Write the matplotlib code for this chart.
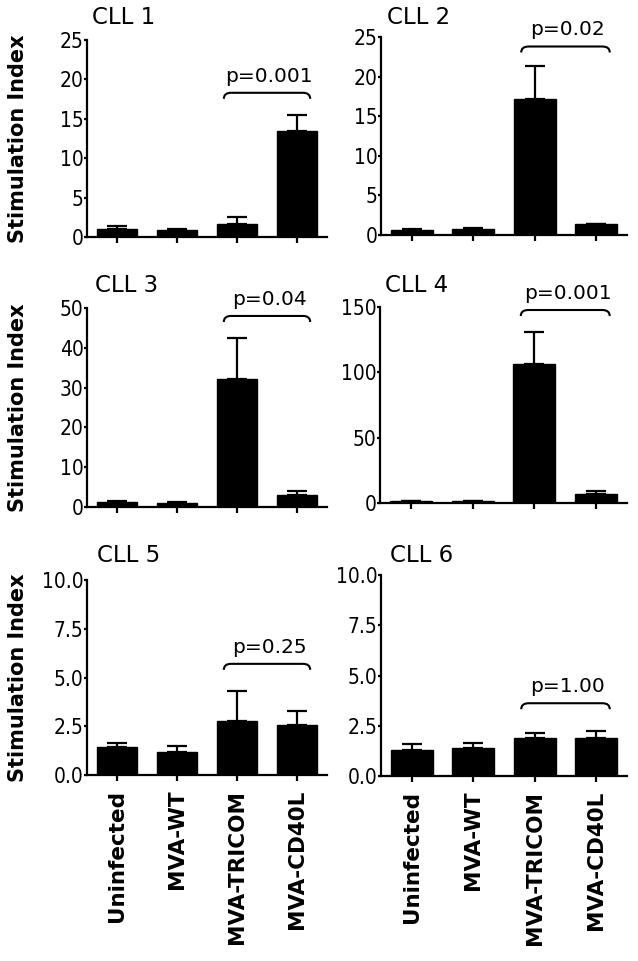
import matplotlib
matplotlib.use("Agg")
import matplotlib.pyplot as plt
from matplotlib.path import Path
from matplotlib.patches import PathPatch

plt.rcParams['font.family'] = ['DejaVu Sans']

categories = ["Uninfected", "MVA-WT", "MVA-TRICOM", "MVA-CD40L"]
titles = ["CLL 1", "CLL 2", "CLL 3", "CLL 4", "CLL 5", "CLL 6"]

cll1_mean = [1.0, 0.9, 1.6, 13.4]
cll1_err = [0.45, 0.1, 1.0, 2.1]
cll2_mean = [0.6, 0.8, 17.2, 1.4]
cll2_err = [0.15, 0.05, 4.2, 0.05]
cll3_mean = [1.2, 1.1, 32.2, 3.0]
cll3_err = [0.2, 0.2, 10.2, 1.1]
cll4_mean = [1.5, 1.5, 106.3, 6.6]
cll4_err = [0.3, 0.3, 24.7, 2.8]
cll5_mean = [1.42, 1.2, 2.77, 2.56]
cll5_err = [0.2, 0.29, 1.53, 0.72]
cll6_mean = [1.29, 1.39, 1.91, 1.91]
cll6_err = [0.32, 0.25, 0.23, 0.33]

p_values = ["p=0.001", "p=0.02", "p=0.04", "p=0.001", "p=0.25", "p=1.00"]
bracket_levels = [18.3, 23.8, 48.0, 147.7, 5.7, 3.62]

y_ticks = [
    [0, 5, 10, 15, 20, 25],
    [0, 5, 10, 15, 20, 25],
    [0, 10, 20, 30, 40, 50],
    [0, 50, 100, 150],
    [0.0, 2.5, 5.0, 7.5, 10.0],
    [0.0, 2.5, 5.0, 7.5, 10.0],
]
y_tick_labels = [
    ["0", "5", "10", "15", "20", "25"],
    ["0", "5", "10", "15", "20", "25"],
    ["0", "10", "20", "30", "40", "50"],
    ["0", "50", "100", "150"],
    ["0.0", "2.5", "5.0", "7.5", "10.0"],
    ["0.0", "2.5", "5.0", "7.5", "10.0"],
]

means = [cll1_mean, cll2_mean, cll3_mean, cll4_mean, cll5_mean, cll6_mean]
errs = [cll1_err, cll2_err, cll3_err, cll4_err, cll5_err, cll6_err]

W, H = 638, 961
fig = plt.figure(figsize=(W / 100, H / 100), dpi=100)

# axes boxes in pixels: x0, y0(top), x1, y1(bottom)
boxes = [
    (87, 40, 327, 237),
    (381, 37, 627, 235),
    (87, 308, 327, 507),
    (380, 307, 627, 503),
    (87, 580, 327, 775),
    (381, 575, 627, 776),
]
title_pos = [(92, 17), (387, 17), (95, 285), (385, 285), (97, 555), (390, 555)]

for i in range(6):
    x0, y0, x1, y1 = boxes[i]
    ax = fig.add_axes([x0 / W, 1 - y1 / H, (x1 - x0) / W, (y1 - y0) / H])
    xs = list(range(len(categories)))
    m = means[i]
    e = errs[i]
    ax.bar(xs, m, width=0.68, color='black', edgecolor='black', zorder=2)
    ax.errorbar(xs, m, yerr=[[0] * len(e), e], fmt='none', ecolor='black',
                elinewidth=1.6, capsize=7.5, capthick=1.6, zorder=1)
    ytop = y_ticks[i][-1]
    ax.set_ylim(0, ytop)
    ax.set_xlim(-0.5, 3.5)
    ax.set_yticks(y_ticks[i])
    ax.set_yticklabels(y_tick_labels[i], fontsize=15, fontstretch='condensed')
    ax.set_xticks(xs)
    if i >= 4:
        ax.set_xticklabels(categories, rotation=90, fontsize=15.5, fontweight='bold',
                           va='top', ha='center')
    else:
        ax.set_xticklabels([])
    for s in ['top', 'right']:
        ax.spines[s].set_visible(False)
    for s in ['left', 'bottom']:
        ax.spines[s].set_linewidth(1.6)
    ax.tick_params(axis='x', direction='out', length=4.5, width=1.6, pad=6)
    ax.tick_params(axis='y', direction='out', length=2.5, width=1.6, pad=0)
    if i % 2 == 0:
        ax.set_ylabel("Stimulation Index", fontsize=15, fontweight='bold')
        ax.yaxis.set_label_coords(-(x0 - 28) / (x1 - x0), 0.5)

    # bracket
    yb = bracket_levels[i]
    d = 6 * ytop / (y1 - y0)
    xl, xr = 1.78, 3.22
    cw = 0.12
    verts = [(xl, yb - d), (xl, yb), (xl + cw, yb), (xr - cw, yb),
             (xr, yb), (xr, yb - d)]
    codes = [Path.MOVETO, Path.CURVE3, Path.CURVE3, Path.LINETO,
             Path.CURVE3, Path.CURVE3]
    ax.add_patch(PathPatch(Path(verts, codes), fill=False, lw=1.5,
                           edgecolor='black', clip_on=False, zorder=3))
    ax.annotate(p_values[i], xy=((xl + xr) / 2 + 0.04, yb), xytext=(0, 8),
                textcoords='offset points', ha='center', va='baseline',
                fontsize=14.5, annotation_clip=False)

    tx, ty = title_pos[i]
    fig.text(tx / W, 1 - ty / H, titles[i], fontsize=16.5, ha='left', va='center')

fig.savefig("out.png", dpi=100)
